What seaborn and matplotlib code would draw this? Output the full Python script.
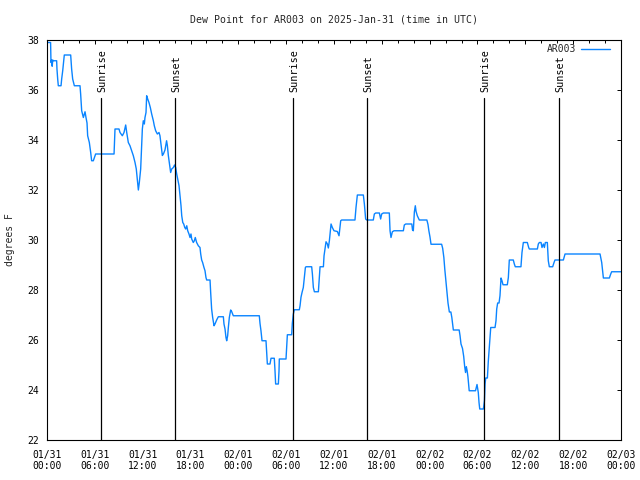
import datetime as dt
import matplotlib
matplotlib.use("Agg")
import matplotlib.pyplot as plt
import pandas as pd
import seaborn as sns
from matplotlib.ticker import MultipleLocator, FuncFormatter

# ---- data (hours since 2025-01-31 00:00 UTC, dew point in F) ----
hours = [
    0.00, 0.45, 0.50, 0.58, 0.65, 0.72, 0.79, 1.21, 1.25, 1.34, 1.42, 1.76, 1.84, 1.97, 2.09, 2.17,
    2.97, 3.09, 3.22, 3.43, 4.14, 4.22, 4.35, 4.56, 4.77, 4.89, 5.02, 5.10, 5.31, 5.48, 5.60, 5.81,
    6.02, 6.10, 8.41, 8.53, 9.03, 9.16, 9.45, 9.66, 9.87, 10.00, 10.20, 10.41, 10.62, 10.83, 11.04,
    11.20, 11.37, 11.46, 11.58, 11.75, 11.87, 11.96, 12.08, 12.21, 12.29, 12.42, 12.50, 12.63, 12.79,
    12.96, 13.13, 13.34, 13.46, 13.63, 13.84, 14.05, 14.17, 14.30, 14.47, 14.60, 14.80, 15.00, 15.10,
    15.22, 15.43, 15.51, 15.64, 15.85, 16.00, 16.14, 16.27, 16.39, 16.56, 16.68, 16.81, 16.90, 17.03,
    17.15, 17.28, 17.40, 17.53, 17.65, 17.81, 17.94, 18.06, 18.15, 18.35, 18.48, 18.60, 18.77, 18.98,
    19.19, 19.28, 19.40, 19.52, 19.69, 19.82, 19.94, 20.03, 20.45, 20.53, 20.65, 20.78, 20.95, 21.07,
    21.28, 21.49, 22.12, 22.20, 22.33, 22.45, 22.54, 22.66, 22.75, 22.87, 23.04, 23.16, 23.37, 26.63,
    26.72, 26.84, 26.97, 27.47, 27.56, 27.64, 27.97, 28.10, 28.51, 28.60, 28.68, 29.02, 29.10, 29.14,
    29.98, 30.06, 30.15, 30.69, 30.77, 30.90, 31.02, 31.65, 31.74, 31.86, 31.99, 32.15, 32.28, 32.41,
    32.49, 33.20, 33.29, 33.41, 33.54, 34.04, 34.16, 34.25, 34.67, 34.75, 34.87, 35.00, 35.17, 35.29,
    35.42, 35.63, 35.79, 36.00, 36.42, 36.63, 36.84, 36.96, 38.63, 38.76, 38.93, 39.68, 39.81, 39.97,
    40.10, 40.93, 41.06, 41.23, 41.69, 41.85, 41.98, 42.19, 42.94, 43.03, 43.15, 43.32, 43.53, 44.70,
    44.82, 45.00, 45.76, 45.85, 45.95, 46.08, 46.20, 46.29, 46.45, 46.70, 47.65, 47.79, 47.90, 48.04,
    48.17, 49.50, 49.63, 49.78, 49.90, 50.03, 50.18, 50.30, 50.44, 50.47, 50.66, 50.78, 50.89, 50.97,
    51.70, 51.81, 51.93, 52.12, 52.27, 52.39, 52.50, 52.60, 52.70, 52.80, 52.90, 52.96, 53.75, 53.94,
    54.10, 54.19, 54.28, 54.74, 54.87, 54.95, 55.03, 55.24, 55.36, 55.49, 55.66, 56.20, 56.32, 56.41,
    56.53, 56.70, 56.82, 56.95, 57.07, 57.20, 57.74, 57.87, 57.99, 58.49, 58.62, 58.74, 59.45, 59.58,
    59.75, 60.25, 60.42, 60.50, 61.51, 61.63, 61.76, 61.97, 62.09, 62.26, 62.39, 62.51, 62.76, 62.88,
    63.01, 63.43, 63.60, 63.72, 64.77, 64.98, 69.37, 69.58, 69.70, 69.79, 70.54, 70.71, 70.83, 72.00,
]
dewpoint = [
    37.90, 37.90, 37.10, 37.20, 36.95, 37.20, 37.17, 37.17, 36.84, 36.44, 36.17, 36.17, 36.44, 36.77, 37.17, 37.40,
    37.40, 36.84, 36.44, 36.17, 36.17, 35.84, 35.17, 34.90, 35.13, 34.90, 34.68, 34.17, 33.90, 33.50, 33.17, 33.17,
    33.37, 33.44, 33.44, 34.44, 34.44, 34.30, 34.17, 34.30, 34.60, 34.30, 33.90, 33.77, 33.57, 33.37, 33.10,
    32.84, 32.30, 32.00, 32.30, 32.84, 33.77, 34.44, 34.77, 34.64, 34.90, 35.10, 35.77, 35.64, 35.50,
    35.30, 35.04, 34.77, 34.57, 34.37, 34.24, 34.30, 34.17, 33.84, 33.38, 33.44, 33.60, 33.97, 33.77,
    33.38, 32.90, 32.70, 32.84, 32.90, 33.00, 32.90, 32.64, 32.44, 32.17, 31.77, 31.37, 30.97, 30.70,
    30.64, 30.50, 30.44, 30.57, 30.37, 30.24, 30.10, 30.24, 30.04, 29.90, 29.97, 30.10, 29.90, 29.77,
    29.70, 29.44, 29.20, 29.10, 28.90, 28.77, 28.50, 28.40, 28.40, 27.90, 27.24, 26.90, 26.57, 26.64,
    26.80, 26.93, 26.93, 26.64, 26.44, 26.10, 25.97, 26.17, 26.51, 26.90, 27.20, 27.14, 26.97, 26.97,
    26.66, 26.37, 25.97, 25.97, 25.50, 25.04, 25.04, 25.27, 25.27, 24.77, 24.24, 24.24, 24.75, 25.24,
    25.24, 25.70, 26.21, 26.21, 26.66, 27.04, 27.21, 27.21, 27.37, 27.71, 27.90, 28.10, 28.50, 28.90,
    28.93, 28.93, 28.64, 28.10, 27.93, 27.93, 28.50, 28.93, 28.93, 29.37, 29.64, 29.93, 29.84, 29.68,
    29.97, 30.64, 30.50, 30.37, 30.34, 30.17, 30.77, 30.80, 30.80, 31.30, 31.80, 31.80, 31.44, 30.84,
    30.80, 30.80, 31.04, 31.08, 31.08, 30.84, 31.04, 31.08, 31.08, 30.37, 30.10, 30.33, 30.37, 30.37,
    30.60, 30.64, 30.64, 30.40, 30.37, 31.12, 31.37, 31.15, 30.97, 30.80, 30.80, 30.62, 30.37, 30.12,
    29.83, 29.83, 29.67, 29.30, 28.82, 28.37, 27.84, 27.48, 27.20, 27.12, 27.12, 26.90, 26.59, 26.40,
    26.40, 26.17, 25.84, 25.66, 25.34, 24.94, 24.70, 24.93, 24.77, 24.53, 24.20, 23.97, 23.97, 24.22,
    23.90, 23.50, 23.24, 23.24, 23.57, 24.24, 24.48, 24.48, 25.17, 25.77, 26.50, 26.50, 26.77, 27.24,
    27.48, 27.48, 27.77, 28.48, 28.37, 28.21, 28.21, 28.50, 29.20, 29.20, 29.04, 28.93, 28.93, 29.50,
    29.90, 29.90, 29.70, 29.64, 29.64, 29.84, 29.90, 29.90, 29.70, 29.84, 29.70, 29.90, 29.90, 29.17,
    28.93, 28.93, 29.10, 29.20, 29.20, 29.44, 29.44, 29.10, 28.74, 28.48, 28.48, 28.64, 28.73, 28.73,
]
sun_labels = ["Sunrise", "Sunset", "Sunrise", "Sunset", "Sunrise", "Sunset"]
sun_hours = [6.82, 16.06, 30.88, 40.17, 54.86, 64.26]

station = "AR003"
title = "Dew Point for AR003 on 2025-Jan-31 (time in UTC)"
ylabel = "degrees F"
start = dt.datetime(2025, 1, 31, 0, 0)

# ---- style ----
sns.set_theme(style="white")
plt.rcParams["font.family"] = ["DejaVu Sans Mono"]
FS = 7.0
line_color = "#0a84ff"

fig = plt.figure(figsize=(6.4, 4.8), dpi=100)
ax = fig.add_axes([47 / 640, 40 / 480, 574 / 640, 400 / 480])

df = pd.DataFrame({"hour": hours, "dew": dewpoint})
sns.lineplot(data=df, x="hour", y="dew", ax=ax, color=line_color, linewidth=1.0,
             label=station, sort=False, estimator=None)

for h, lab in zip(sun_hours, sun_labels):
    ax.plot([h, h], [22, 35.68], color="black", linewidth=0.9)
    ax.text(h + 0.15, 35.92, lab, rotation=90, ha="center", va="bottom",
            fontsize=7.3, color="black")

ax.set_xlim(0, 72)
ax.set_ylim(22, 38)
ax.xaxis.set_major_locator(MultipleLocator(6))
ax.xaxis.set_minor_locator(MultipleLocator(2))
ax.yaxis.set_major_locator(MultipleLocator(2))


def fmt(x, pos):
    t = start + dt.timedelta(hours=x)
    return t.strftime("%m/%d\n%H:%M")


ax.xaxis.set_major_formatter(FuncFormatter(fmt))
ax.yaxis.set_major_formatter(FuncFormatter(lambda v, p: f"{v:.0f}"))
ax.tick_params(axis="both", which="both", direction="in", top=True, right=True,
               colors="black", labelsize=FS, width=0.7)
ax.tick_params(axis="both", which="major", length=3.2)
ax.tick_params(axis="both", which="minor", length=2.0)
ax.tick_params(axis="x", which="major", pad=7)
ax.tick_params(axis="y", which="major", pad=5.8)
for lbl in ax.get_xticklabels():
    lbl.set_linespacing(1.1)

for s in ax.spines.values():
    s.set_color("black")
    s.set_linewidth(0.8)

ax.set_xlabel("")
ax.set_ylabel("")
fig.text(334 / 640, 1 - 20 / 480, title, ha="center", va="center", fontsize=7.1)
fig.text(10 / 640, 0.5, ylabel, rotation=90, ha="center", va="center", fontsize=FS)

leg = ax.legend(loc="upper right", bbox_to_anchor=((610 - 47) / 574, 1 - (44 - 40) / 400),
                frameon=False, markerfirst=False, fontsize=FS, handlelength=3.0,
                handletextpad=0.5, borderpad=0, borderaxespad=0)

fig.savefig("out.png", dpi=100, facecolor="white")
